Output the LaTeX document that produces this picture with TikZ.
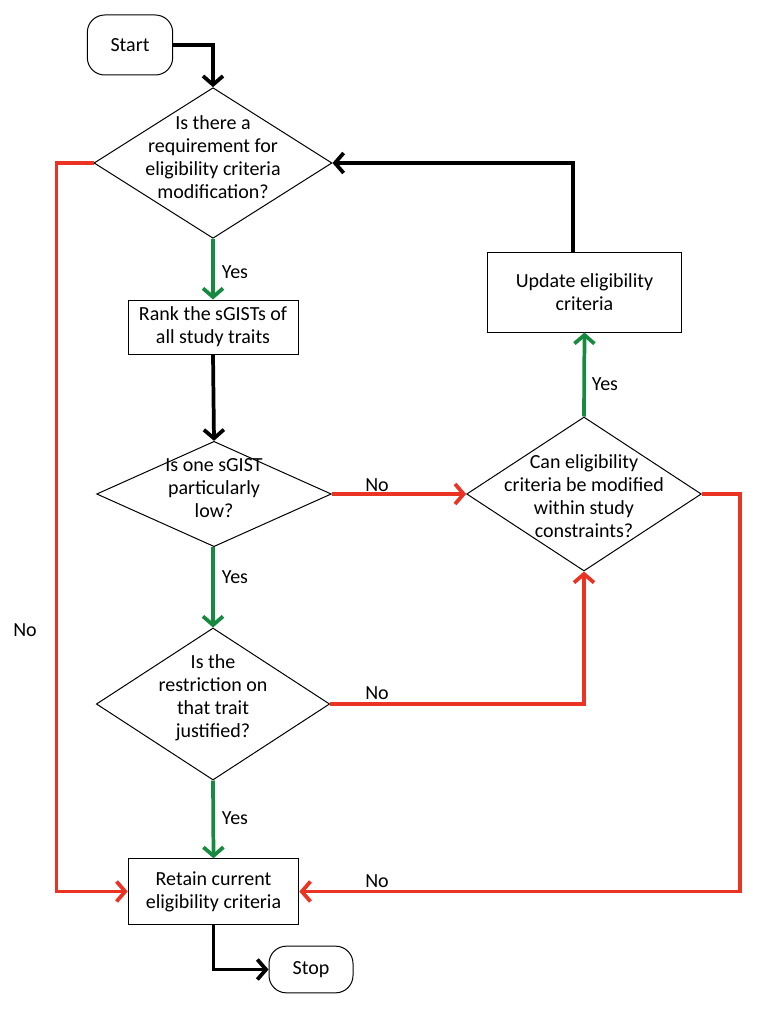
\documentclass[tikz,border=0pt]{standalone}
\usepackage{fontspec}
\setmainfont{Carlito}
\usetikzlibrary{shapes.geometric,arrows.meta}
\definecolor{fred}{RGB}{234,51,35}
\definecolor{fgreen}{RGB}{24,138,64}
\begin{document}
\begin{tikzpicture}[x=0.75pt,y=-0.75pt,
  font=\fontsize{15}{17.25}\selectfont,
  box/.style={draw,line width=0.75pt,rectangle,align=center,inner sep=0pt},
  term/.style={draw,line width=0.75pt,rectangle,rounded corners=13pt,inner sep=0pt},
  dia/.style={draw,line width=0.75pt,diamond,inner sep=0pt},
  dtext/.style={align=center,inner sep=0pt},
  conn/.style={line width=2.8pt,-{Straight Barb[length=6.5pt,width=15pt]}},
  cb/.style={conn,draw=black},
  cr/.style={conn,draw=fred},
  cg/.style={conn,draw=fgreen},
  lbl/.style={inner sep=0pt}
]
\useasboundingbox (0,0) rectangle (756,1009);

% nodes
\node[term,minimum width=64pt,minimum height=45pt] (start) at (130,45) {Start};
\node[dia,minimum width=178.5pt,minimum height=113pt] (d1) at (213,163) {};
\node[dtext] (d1t) at (213,157) {Is there a\\requirement for\\eligibility criteria\\modification?};
\node[box,minimum width=127.5pt,minimum height=40.5pt] (rank) at (213,327) {Rank the sGISTs of\\all study traits};
\node[dia,minimum width=176pt,minimum height=79pt] (d2) at (214,494) {};
\node[dtext] (d2t) at (214,488) {Is one sGIST\\particularly\\low?};
\node[dia,minimum width=176pt,minimum height=115.5pt] (d3) at (584,494) {};
\node[dtext] (d3t) at (584,496) {Can eligibility\\criteria be modified\\within study\\constraints?};
\node[box,minimum width=146pt,minimum height=60pt] (upd) at (584.5,292) {Update eligibility\\criteria};
\node[dia,minimum width=175pt,minimum height=114pt] (d4) at (213,704) {};
\node[dtext] (d4t) at (213,698) {Is the\\restriction on\\that trait\\justified?};
\node[box,minimum width=128pt,minimum height=49pt] (ret) at (213.5,891.5) {Retain current\\eligibility criteria};
\node[term,minimum width=63pt,minimum height=35pt] (stop) at (311,969.5) {Stop};

% connectors
\draw[cb] (start.east) -| (d1.north);
\draw[cg] (d1.south) -- (rank.north);
\draw[cb] (rank.south) -- (d2.north);
\draw[cr] (d2.east) -- (d3.west);
\draw[cg] (d2.south -| d4.north) -- (d4.north);
\draw[cg] (d3.north) -- (upd.south);
\draw[cb] ([xshift=-8.6pt]upd.north) |- (d1.east);
\draw[cr] (d4.east) -| (d3.south);
\draw[cg] (d4.south) -- (ret.north);
\draw[cr] (d1.west) -- ++(-37,0) |- (ret.west);
\draw[cr] (d3.east) -- ++(38,0) |- (ret.east);
\draw[cb] (ret.south) |- (stop.west);

% labels
\node[lbl] (y1) at (235,272) {Yes};
\node[lbl] (y2) at (235,577) {Yes};
\node[lbl] (y3) at (235,818) {Yes};
\node[lbl] (y4) at (605,384) {Yes};
\node[lbl] (n1) at (377,485) {No};
\node[lbl] (n2) at (377,693) {No};
\node[lbl] (n3) at (377,881) {No};
\node[lbl] (n4) at (25,630) {No};
\end{tikzpicture}
\end{document}
